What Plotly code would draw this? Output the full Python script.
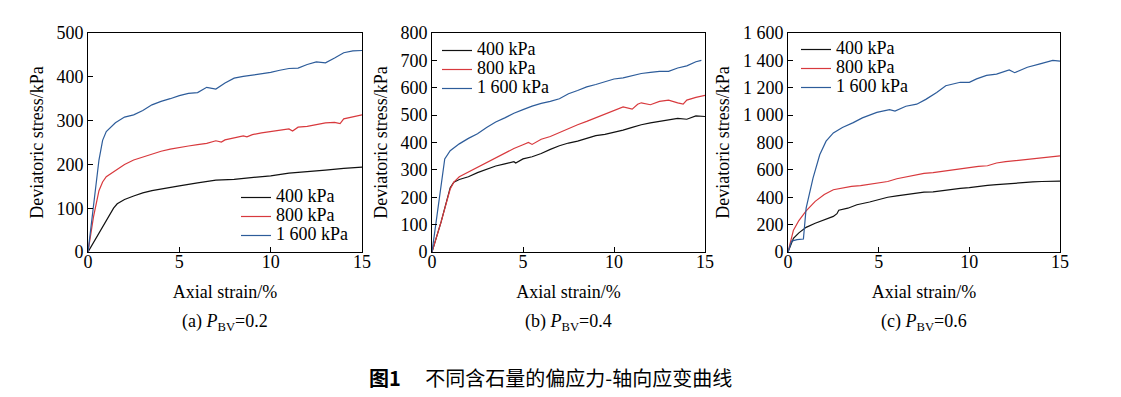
import plotly.graph_objects as go

# ---------------- data ----------------
# Panel (a) P_BV = 0.2
a400_x = [0, 0.5, 1, 1.4, 1.6, 2, 2.5, 3, 3.5, 4, 5, 6, 7, 8, 8.5, 9, 10, 11, 12, 13, 14, 15]
a400_y = [0, 35, 70, 100, 110, 120, 128, 135, 140, 144, 151, 158, 164, 166, 168, 171, 174, 180, 183, 187, 191, 194]
a800_x = [0, 0.3, 0.6, 0.8, 1, 1.5, 2, 2.5, 3, 3.5, 4, 4.5, 5, 5.5, 6, 6.5, 7, 7.3, 7.5, 8, 8.5, 8.7, 9, 9.5, 10, 10.5, 11, 11.2, 11.5, 12, 12.5, 13, 13.5, 13.8, 14, 14.5, 15]
a800_y = [0, 80, 140, 160, 172, 187, 200, 210, 217, 223, 230, 235, 239, 242, 245, 248, 254, 251, 256, 261, 265, 263, 268, 272, 275, 278, 281, 276, 285, 287, 291, 295, 296, 293, 304, 309, 313]
a1600_x = [0, 0.3, 0.6, 0.8, 1, 1.5, 2, 2.5, 3, 3.5, 4, 4.5, 5, 5.5, 6, 6.5, 7, 7.5, 8, 8.5, 9, 9.5, 10, 10.5, 11, 11.5, 12, 12.5, 13, 13.5, 14, 14.5, 15]
a1600_y = [0, 100, 210, 255, 275, 295, 308, 313, 323, 336, 344, 350, 357, 362, 364, 376, 372, 386, 397, 401, 404, 406, 410, 415, 419, 420, 428, 434, 432, 443, 455, 459, 460]

# Panel (b) P_BV = 0.4
b400_x = [0, 0.5, 1, 1.2, 1.5, 2, 2.5, 3, 3.5, 4, 4.5, 4.6, 5, 5.5, 6, 6.5, 7, 7.5, 8, 8.5, 9, 9.5, 10, 10.5, 11, 11.5, 12, 12.5, 13, 13.5, 14, 14.5, 15]
b400_y = [0, 110, 235, 255, 265, 275, 290, 303, 314, 322, 330, 325, 340, 348, 360, 375, 388, 398, 405, 415, 425, 430, 437, 445, 455, 465, 472, 478, 483, 488, 485, 497, 495]
b800_x = [0, 0.5, 1, 1.2, 1.5, 2, 2.5, 3, 3.5, 4, 4.5, 5, 5.3, 5.5, 6, 6.5, 7, 7.5, 8, 8.5, 9, 9.5, 10, 10.5, 11, 11.3, 11.5, 12, 12.5, 13, 13.5, 13.8, 14, 14.5, 15]
b800_y = [0, 110, 230, 255, 275, 292, 310, 325, 345, 362, 378, 392, 400, 393, 412, 422, 437, 452, 465, 477, 490, 505, 518, 530, 522, 540, 545, 538, 550, 555, 545, 540, 555, 565, 572]
b1600_x = [0, 0.7, 1, 1.5, 2, 2.5, 3, 3.5, 4, 4.5, 5, 5.5, 6, 6.5, 7, 7.5, 8, 8.5, 9, 9.5, 10, 10.5, 11, 11.5, 12, 12.5, 13, 13.5, 14, 14.5, 14.8]
b1600_y = [0, 340, 370, 395, 415, 432, 455, 475, 490, 507, 520, 533, 543, 550, 560, 578, 590, 603, 612, 623, 632, 636, 645, 652, 656, 660, 660, 672, 680, 695, 700]

# Panel (c) P_BV = 0.6
c400_x = [0, 0.3, 0.6, 1, 1.5, 2, 2.5, 2.7, 2.8, 3.3, 3.8, 4.5, 5, 5.5, 6, 6.5, 7, 7.5, 8, 8.5, 9, 9.5, 10, 10.5, 11, 11.5, 12, 12.5, 13, 13.5, 14, 14.5, 15]
c400_y = [0, 100, 140, 180, 210, 235, 260, 280, 305, 320, 345, 365, 385, 400, 410, 420, 430, 437, 440, 450, 458, 465, 470, 480, 487, 492, 498, 503, 508, 512, 515, 518, 518]
c800_x = [0, 0.3, 0.6, 1, 1.5, 2, 2.5, 3, 3.5, 4, 4.5, 5, 5.5, 6, 6.5, 7, 7.5, 8, 8.5, 9, 9.5, 10, 10.5, 11, 11.5, 12, 12.5, 13, 13.5, 14, 14.5, 15]
c800_y = [0, 160, 230, 300, 370, 420, 455, 470, 480, 485, 495, 505, 515, 535, 550, 565, 575, 580, 590, 600, 605, 615, 625, 630, 650, 660, 668, 672, 680, 690, 698, 703]
c1600_x = [0, 0.2, 0.5, 0.85, 1.0, 1.38, 1.75, 2.1, 2.5, 3.0, 3.6, 4.1, 4.9, 5.6, 5.9, 6.5, 7.1, 7.6, 8.2, 8.7, 9.5, 10, 10.4, 10.95, 11.5, 12.2, 12.5, 13.2, 13.9, 14.6, 15]
c1600_y = [0, 80, 90, 95, 320, 540, 710, 810, 870, 910, 945, 980, 1020, 1040, 1030, 1065, 1080, 1115, 1165, 1215, 1240, 1240, 1265, 1290, 1300, 1330, 1310, 1350, 1375, 1400, 1395]

series_names = ["400 kPa", "800 kPa", "1 600 kPa"]
x_ticks = [0, 5, 10, 15]
y_ticks_a = [0, 100, 200, 300, 400, 500]
y_ticks_b = [0, 100, 200, 300, 400, 500, 600, 700, 800]
y_ticks_c = [0, 200, 400, 600, 800, 1000, 1200, 1400, 1600]
y_ticktext_c = ["0", "200", "400", "600", "800", "1 000", "1 200", "1 400", "1 600"]
panel_captions = ["(a) <i>P</i><sub>BV</sub>=0.2", "(b) <i>P</i><sub>BV</sub>=0.4", "(c) <i>P</i><sub>BV</sub>=0.6"]
figure_caption = "<b>图1</b>\u3000 不同含石量的偏应力-轴向应变曲线"

# ---------------- styling ----------------
W, H = 1121, 397
SERIF = "Liberation Serif"
colors = ["#111111", "#d8393d", "#2d5c9a"]
FS = 18

panels = [
    dict(data=[(a400_x, a400_y), (a800_x, a800_y), (a1600_x, a1600_y)],
         px=(88, 362), yt=y_ticks_a, ytt=None, legend="legend", leg_xy=(236, 183)),
    dict(data=[(b400_x, b400_y), (b800_x, b800_y), (b1600_x, b1600_y)],
         px=(432, 705), yt=y_ticks_b, ytt=None, legend="legend2", leg_xy=(437, 36)),
    dict(data=[(c400_x, c400_y), (c800_x, c800_y), (c1600_x, c1600_y)],
         px=(788, 1060), yt=y_ticks_c, ytt=y_ticktext_c, legend="legend3", leg_xy=(796, 35)),
]

top_px, bot_px = 33, 252
ydom = [1 - bot_px / H, 1 - top_px / H]

fig = go.Figure()
layout = dict(
    width=W, height=H,
    margin=dict(l=0, r=0, t=0, b=0, autoexpand=False),
    paper_bgcolor="white", plot_bgcolor="white",
    font=dict(family=SERIF, size=FS, color="black"),
    showlegend=True,
    annotations=[],
)

for i, p in enumerate(panels):
    sfx = "" if i == 0 else str(i + 1)
    for j, (xs, ys) in enumerate(p["data"]):
        fig.add_trace(go.Scatter(
            x=xs, y=ys, mode="lines",
            name='<span style="font-size:18px">' + series_names[j] + "</span>",
            line=dict(color=colors[j], width=1.2),
            xaxis="x" + sfx, yaxis="y" + sfx, legend=p["legend"],
        ))
    axis_common = dict(showline=True, linecolor="black", linewidth=1, mirror=True,
                       ticks="inside", ticklen=5, tickcolor="black", showgrid=False,
                       zeroline=False, automargin=False,
                       tickfont=dict(family=SERIF, size=FS, color="black"))
    layout["xaxis" + sfx] = dict(
        domain=[p["px"][0] / W, p["px"][1] / W], range=[0, 15],
        tickvals=x_ticks, anchor="y" + sfx, ticklabelstandoff=-7,
        title=dict(text="Axial strain/%", standoff=14, font=dict(family=SERIF, size=FS, color="black")),
        **axis_common)
    yax = dict(domain=ydom, range=[0, p["yt"][-1]], tickvals=p["yt"], anchor="x" + sfx,
               title=dict(text="Deviatoric stress/kPa", standoff=8, font=dict(family=SERIF, size=FS, color="black")),
               **axis_common)
    if p["ytt"] is not None:
        yax["ticktext"] = p["ytt"]
    layout["yaxis" + sfx] = yax
    layout[p["legend"]] = dict(
        x=p["leg_xy"][0] / W, y=1 - p["leg_xy"][1] / H, xanchor="left", yanchor="top",
        bgcolor="rgba(0,0,0,0)", borderwidth=0,
        font=dict(family=SERIF, size=12, color="black"),
        tracegroupgap=0, itemwidth=30,
    )
    layout["annotations"].append(dict(
        text=panel_captions[i], x=(p["px"][0] + p["px"][1]) / 2 / W, y=1 - 322 / H,
        xref="paper", yref="paper", showarrow=False, xanchor="center", yanchor="middle",
        font=dict(family=SERIF, size=FS, color="black"),
    ))

layout["annotations"].append(dict(
    text=figure_caption, x=550 / W, y=1 - 377 / H, xref="paper", yref="paper",
    showarrow=False, xanchor="center", yanchor="middle",
    font=dict(family="Noto Sans CJK SC", size=20, color="black"),
))

fig.update_layout(**layout)
fig.write_html("out.html", config={"displayModeBar": False},
               post_script="document.body.style.margin='0px';")
